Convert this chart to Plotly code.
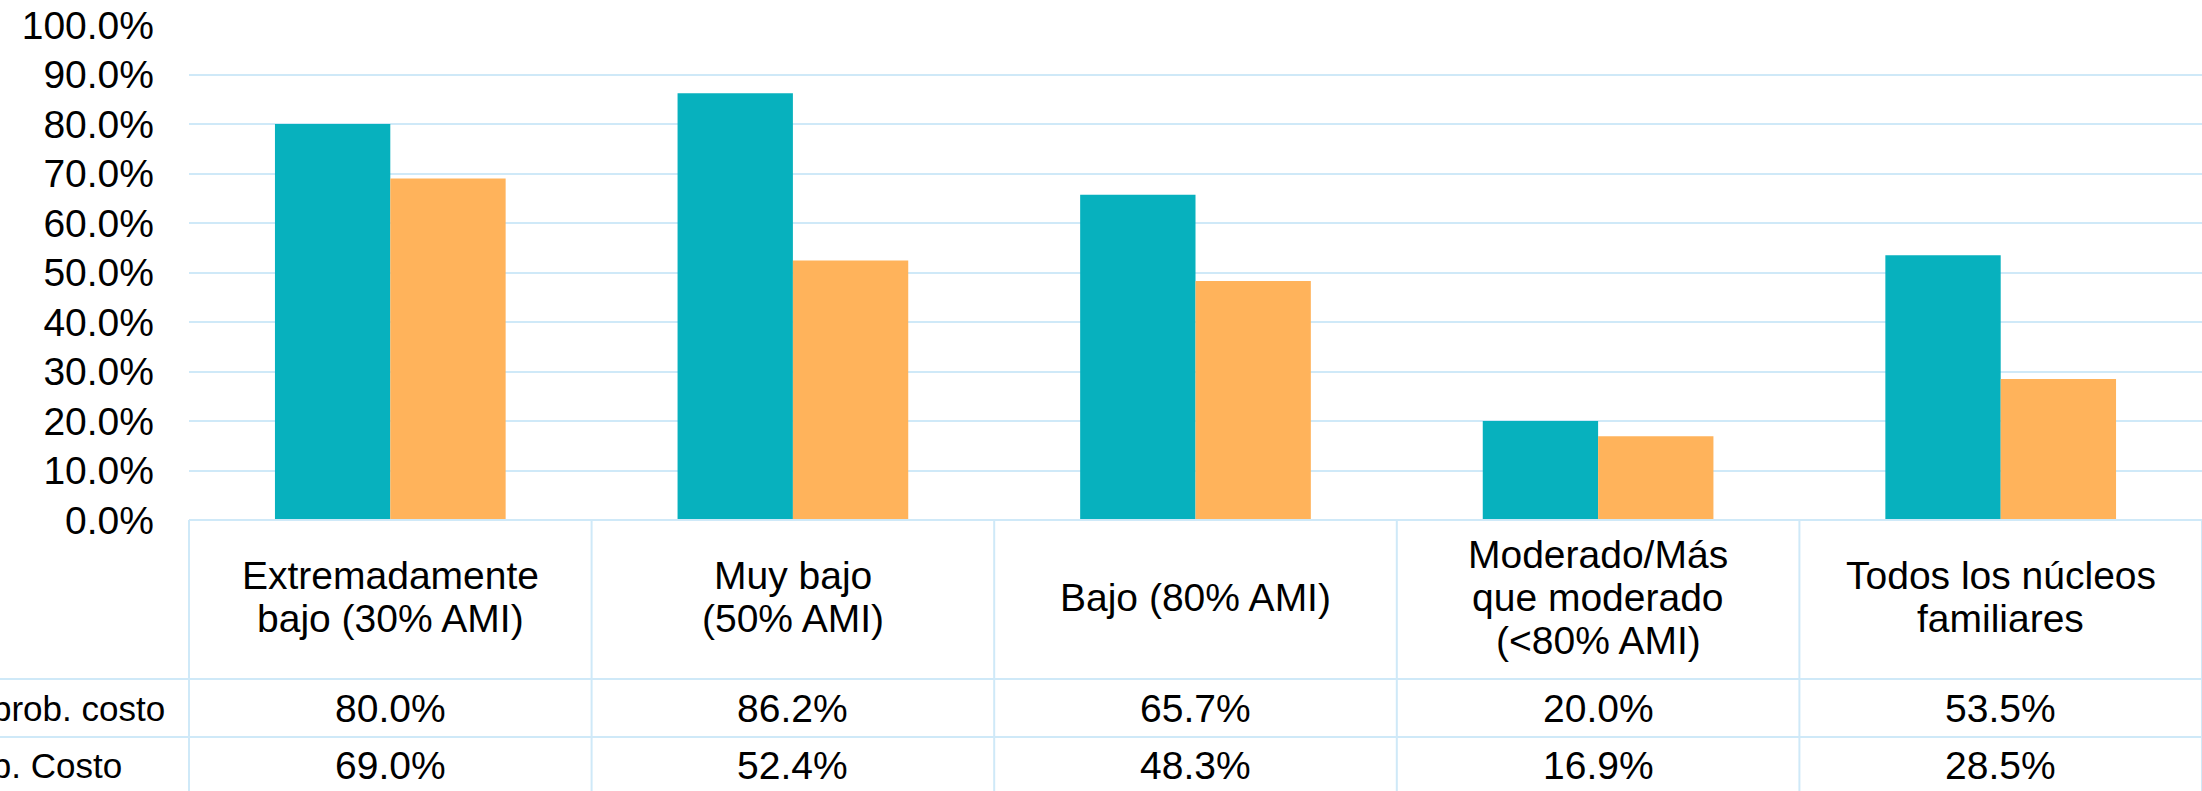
import plotly.graph_objects as go

# ---- data ----
categories = [
    "Extremadamente<br>bajo (30% AMI)",
    "Muy bajo<br>(50% AMI)",
    "Bajo (80% AMI)",
    "Moderado/Más<br>que moderado<br>(<80% AMI)",
    "Todos los núcleos<br>familiares",
]
series_names = ["% con prob. costo", "% con grave prob. Costo"]
prob_costo = [80.0, 86.2, 65.7, 20.0, 53.5]
grave_prob_costo = [69.0, 52.4, 48.3, 16.9, 28.5]
y_ticks = [0, 10, 20, 30, 40, 50, 60, 70, 80, 90, 100]
y_tick_labels = [f"{v:.1f}%" for v in y_ticks]

# ---- style ----
W, H = 2202, 791
M_L, M_T, M_B = 189, 25, 271
PLOT_H = H - M_T - M_B
FONT = "Liberation Sans"
FS = 39
TEAL = "#07B1BE"
ORANGE = "#FFB35B"
GRID = "#CFE9F8"


def py2paper(py):
    return (H - M_B - py) / PLOT_H


def px2paper(px):
    return (px - M_L) / (W - M_L)


fig = go.Figure()
fig.add_trace(go.Bar(x=categories, y=prob_costo, name=series_names[0],
                     marker=dict(color=TEAL, line=dict(width=0))))
fig.add_trace(go.Bar(x=categories, y=grave_prob_costo, name=series_names[1],
                     marker=dict(color=ORANGE, line=dict(width=0))))

annotations = []
shapes = []

# header cells (category labels), one annotation per line
header_center = py2paper(597)
line_h = 43
for cat in categories:
    lines = cat.split("<br>")
    n = len(lines)
    for k, ln in enumerate(lines):
        annotations.append(dict(
            x=cat, xref="x", y=header_center, yref="paper",
            text=ln, showarrow=False, xanchor="center", yanchor="middle",
            yshift=-(k - (n - 1) / 2) * line_h,
            font=dict(family=FONT, size=FS, color="#000000")))

# value rows
row_centers = [py2paper(708), py2paper(765)]
for vals, yc in zip([prob_costo, grave_prob_costo], row_centers):
    for cat, v in zip(categories, vals):
        annotations.append(dict(
            x=cat, xref="x", y=yc, yref="paper", text=f"{v:.1f}%",
            showarrow=False, xanchor="center", yanchor="middle",
            font=dict(family=FONT, size=FS, color="#000000")))

# row labels (cut at left edge, as in the reference)
for name, yc, xr in zip(series_names, row_centers, [167, 124]):
    annotations.append(dict(
        x=px2paper(xr), xref="paper", y=yc, yref="paper", text=name,
        showarrow=False, xanchor="right", yanchor="middle",
        font=dict(family=FONT, size=35, color="#000000")))

# table grid lines
n = len(categories)
y_bottom = py2paper(H + 5)
for i in range(n + 1):
    shapes.append(dict(type="line", xref="paper", yref="paper",
                       x0=i / n, x1=i / n, y0=0, y1=y_bottom,
                       line=dict(color=GRID, width=2)))
shapes.append(dict(type="line", xref="paper", yref="paper", x0=0, x1=1.01,
                   y0=0, y1=0, line=dict(color=GRID, width=2)))
for py in [679, 737]:
    shapes.append(dict(type="line", xref="paper", yref="paper",
                       x0=px2paper(-5), x1=1.01, y0=py2paper(py), y1=py2paper(py),
                       line=dict(color=GRID, width=2)))

fig.update_layout(
    width=W, height=H,
    margin=dict(l=M_L, r=0, t=M_T, b=M_B, pad=0),
    paper_bgcolor="white", plot_bgcolor="white",
    barmode="group", bargap=0.427, bargroupgap=0,
    showlegend=False,
    font=dict(family=FONT, size=FS, color="#000000"),
    annotations=annotations, shapes=shapes,
)
fig.update_xaxes(showticklabels=False, showgrid=False, zeroline=False,
                 showline=False, ticks="", range=[-0.5, n - 0.5])
fig.update_yaxes(range=[0, 100], tickmode="array", tickvals=y_ticks,
                 ticktext=y_tick_labels,
                 showgrid=True, gridcolor=GRID, gridwidth=2,
                 zeroline=False, showline=False, ticks="",
                 ticklabelstandoff=34,
                 tickfont=dict(family=FONT, size=FS, color="#000000"))

fig.write_html("out.html",
               config={"displayModeBar": False},
               post_script="document.body.style.margin='0';document.body.style.overflow='hidden';")
